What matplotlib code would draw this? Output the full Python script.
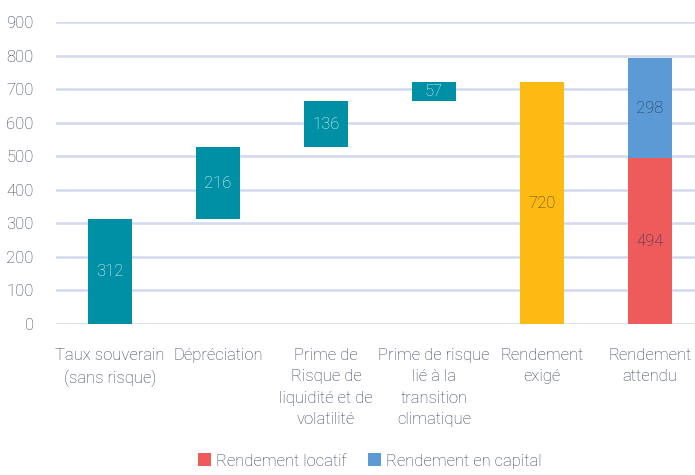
import matplotlib.pyplot as plt

## waterfall data
categories = ['Taux souverain\n(sans risque)', 'Dépréciation', 'Prime de\nRisque de\nliquidité et de\nvolatilité',
              'Prime de risque\nlié à la\ntransition\nclimatique', 'Rendement\nexigé', 'Rendement\nattendu']
steps = [312, 216, 136, 57]
required = 720
rent_yield = 494
capital_yield = 298

teal = '#0090a5'
yellow = '#fdba13'
red = '#ef5a5b'
blue = '#5b9ad5'
text_col = '#333d5a'

plt.rcParams['font.family'] = ['Roboto', 'DejaVu Sans']
plt.rcParams['font.weight'] = 'light'

fig = plt.figure(figsize=(6.95, 4.75), dpi=100)
ax = fig.add_axes([56 / 695, 1 - 324 / 475, 648 / 695, 302 / 475])

w = 0.41
base = 0
for i, v in enumerate(steps):
    ax.bar(i, v, bottom=base, width=w, color=teal, zorder=3)
    ax.text(i, base + v / 2, str(v), ha='center', va='center', color='#eef7f8', fontsize=12, zorder=4)
    base += v

ax.bar(4, required, width=w, color=yellow, zorder=3)
ax.text(4, required / 2, str(required), ha='center', va='center', color='#4a3f2a', fontsize=12, zorder=4)

ax.bar(5, rent_yield, width=w, color=red, zorder=3, label='Rendement locatif')
ax.bar(5, capital_yield, bottom=rent_yield, width=w, color=blue, zorder=3, label='Rendement en capital')
ax.text(5, rent_yield / 2, str(rent_yield), ha='center', va='center', color='#2e3358', fontsize=12, zorder=4)
ax.text(5, rent_yield + capital_yield / 2, str(capital_yield), ha='center', va='center', color='#263658', fontsize=12, zorder=4)

ax.set_xlim(-0.5, 5.5)
ax.set_ylim(0, 900)
ax.set_yticks(range(0, 1000, 100))
ax.set_xticks(range(len(categories)))
ax.set_xticklabels(categories, color=text_col, fontsize=12, linespacing=1.55, va='top')
ax.tick_params(axis='y', colors=text_col, labelsize=12, length=0, pad=16)
ax.tick_params(axis='x', length=0, pad=17)
ax.grid(axis='y', color='#d3d9ee', linewidth=1.8, zorder=0)
for s in ax.spines.values():
    s.set_visible(False)

fig.legend(loc='lower center', bbox_to_anchor=(0.532, -0.018), ncol=2, frameon=False, fontsize=12,
           handlelength=0.75, handleheight=0.8, handletextpad=0.3, columnspacing=1.3, labelcolor=text_col)

plt.savefig('out.png')
